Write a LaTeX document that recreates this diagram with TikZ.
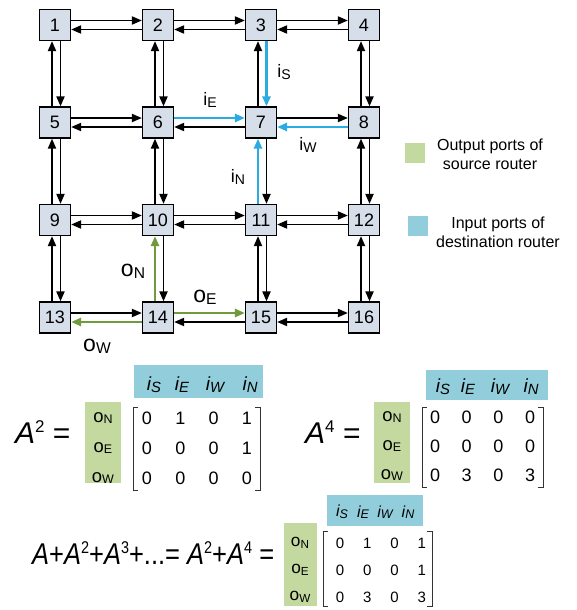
\documentclass[tikz,border=0pt]{standalone}
\usepackage{fontspec}
\setmainfont{Liberation Sans}
\usetikzlibrary{arrows.meta, calc}

\definecolor{boxfill}{HTML}{D5DEE9}
\definecolor{inblue}{HTML}{2AACE2}
\definecolor{outgreen}{HTML}{6F9B3C}
\definecolor{legblue}{HTML}{92CDDC}
\definecolor{leggreen}{HTML}{C4D9A0}

\newcommand{\ip}[1]{i\raisebox{-0.1em}{\scalebox{0.78}{#1}}}
\newcommand{\op}[1]{\scalebox{1.15}{o}\raisebox{-0.1em}{\scalebox{0.78}{#1}}}
\newcommand{\pw}[1]{\raisebox{0.38em}{\fontsize{17}{17}\selectfont #1}}

\begin{document}
\begin{tikzpicture}[x=1pt,y=-1pt,
    router/.style={draw,line width=1.2pt,fill=boxfill,%
      minimum size=31pt,inner sep=0pt,font=\fontsize{18}{18}\selectfont},
    link/.style={line width=1.9pt,-{Triangle[length=10pt,width=8pt]}},
    inlink/.style={link,inblue,line width=2.7pt},
    outlink/.style={link,outgreen,line width=2.7pt},
    portlbl/.style={font=\fontsize{18}{18}\selectfont},
    olbl/.style={font=\fontsize{20}{20}\selectfont},
    legtxt/.style={align=center,font=\fontsize{16}{19}\selectfont},
    eqn/.style={anchor=west,inner sep=0pt,font=\fontsize{30}{30}\selectfont},
    hdr/.style={font=\fontsize{19}{19}\selectfont\itshape},
    rowlbl/.style={font=\fontsize{16}{16}\selectfont},
    entry/.style={font=\fontsize{18}{18}\selectfont},
    bracket/.style={line width=0.8pt,black!80}]
\useasboundingbox (0,0) rectangle (576,610);

% 4x4 mesh of routers
\foreach \n in {1,...,16}{
  \pgfmathsetmacro\cx{55+103*mod(\n-1,4)}
  \pgfmathsetmacro\cy{25+97.5*int((\n-1)/4)}
  \node[router] (r\n) at (\cx,\cy) {\n};
}

% east-bound links
\foreach \a/\b in {1/2,2/3,3/4,5/6,7/8,9/10,10/11,11/12,13/14,15/16}
  \draw[link] ([yshift=4.5pt]r\a.east) -- ([yshift=4.5pt]r\b.west);
% west-bound links
\foreach \a/\b in {1/2,2/3,3/4,5/6,6/7,9/10,10/11,11/12,14/15,15/16}
  \draw[link] ([yshift=-4.5pt]r\b.west) -- ([yshift=-4.5pt]r\a.east);
% north-bound links
\foreach \a/\b in {1/5,2/6,3/7,4/8,5/9,6/10,8/12,9/13,11/15,12/16}
  \draw[link] ([xshift=-3pt]r\b.north) -- ([xshift=-3pt]r\a.south);
% south-bound links
\foreach \a/\b in {1/5,2/6,4/8,5/9,6/10,7/11,8/12,9/13,10/14,11/15,12/16}
  \draw[link] ([xshift=5.5pt]r\a.south) -- ([xshift=5.5pt]r\b.north);

% input ports of router 7
\draw[inlink] ([xshift=5.5pt]r3.south) -- ([xshift=5.5pt]r7.north);
\draw[inlink] ([yshift=4.5pt]r6.east) -- ([yshift=4.5pt]r7.west);
\draw[inlink] ([yshift=-4.5pt]r8.west) -- ([yshift=-4.5pt]r7.east);
\draw[inlink] ([xshift=-3pt]r11.north) -- ([xshift=-3pt]r7.south);
% output ports of router 14
\draw[outlink] ([xshift=-3pt]r14.north) -- ([xshift=-3pt]r10.south);
\draw[outlink] ([yshift=4.5pt]r14.east) -- ([yshift=4.5pt]r15.west);
\draw[outlink] ([yshift=-4.5pt]r14.west) -- ([yshift=-4.5pt]r13.east);

\node[portlbl] (lS) at (284,72) {\ip{S}};
\node[portlbl] (lE) at (210,100) {\ip{E}};
\node[portlbl] (lW) at (308,145) {\ip{W}};
\node[portlbl] (lN) at (238,177) {\ip{N}};
\node[olbl] (oN) at (133,271) {\op{N}};
\node[olbl] (oE) at (205,297) {\op{E}};
\node[olbl] (oW) at (97,346) {\op{W}};

% legend
\node[fill=leggreen,minimum size=20pt,inner sep=0pt] (kout) at (415,153) {};
\node[legtxt] (koutt) at (490,154) {Output ports of\\source router};
\node[fill=legblue,minimum size=20pt,inner sep=0pt] (kin) at (418,226) {};
\node[legtxt] (kint) at (498,232) {Input ports of\\destination router};

% A^2
\node[eqn] (eqa) at (15,432) {\textit{A}\pw{2} =};
\fill[leggreen] (85,402) rectangle (121,483);
\fill[legblue] (134,365) rectangle (263,398);
\foreach \t/\x in {S/154,E/182,W/215,N/250}
  \node[hdr] (ha-\t) at (\x,385) {\ip{\t}};
\foreach \t [count=\r] in {N,E,W}
  \node[rowlbl] (ra-\t) at (103,{418+30*(\r-1)}) {\op{\t}};
\draw[bracket] (138,407) -| (133,490) -- (138,490);
\draw[bracket] (255,407) -| (260,490) -- (255,490);
\foreach \row [count=\r] in {{0,1,0,1},{0,0,0,1},{0,0,0,0}}
  \foreach \v [count=\c] in \row
    \node[entry] (ma-\r-\c) at ({147+33.3*(\c-1)},{418+30*(\r-1)}) {\v};

% A^4
\node[eqn] (eqb) at (305,432) {\textit{A}\pw{4} =};
\fill[leggreen] (374,402) rectangle (410,483);
\fill[legblue] (426,370) rectangle (548,400);
\foreach \t/\x in {S/443,E/468,W/500,N/531}
  \node[hdr] (hb-\t) at (\x,387) {\ip{\t}};
\foreach \t [count=\r] in {N,E,W}
  \node[rowlbl] (rb-\t) at (392,{417+29*(\r-1)}) {\op{\t}};
\draw[bracket] (427,407) -| (422,487) -- (427,487);
\draw[bracket] (538,407) -| (543,487) -- (538,487);
\foreach \row [count=\r] in {{0,0,0,0},{0,0,0,0},{0,3,0,3}}
  \foreach \v [count=\c] in \row
    \node[entry] (mb-\r-\c) at ({435+31.7*(\c-1)},{417+29*(\r-1)}) {\v};

% sum
\node[eqn] (eqc) at (32,553) {\scalebox{0.85}[1]{\textit{A}+\textit{A}\pw{2}+\textit{A}\pw{3}+...=
  \textit{A}\pw{2}+\textit{A}\pw{4} =}};
\fill[leggreen] (284,523) rectangle (317,606);
\fill[legblue] (327,495) rectangle (423,526);
\foreach \t/\x in {S/342,E/363,W/385,N/408}
  \node[hdr,font=\fontsize{16}{16}\selectfont\itshape] (hc-\t) at (\x,512) {\ip{\t}};
\foreach \t [count=\r] in {N,E,W}
  \node[rowlbl,font=\fontsize{15}{15}\selectfont] (rc-\t) at (300,{543+27*(\r-1)}) {\op{\t}};
\draw[bracket] (328,531) -| (323,606) -- (328,606);
\draw[bracket] (427,531) -| (432,606) -- (427,606);
\foreach \row [count=\r] in {{0,1,0,1},{0,0,0,1},{0,3,0,3}}
  \foreach \v [count=\c] in \row
    \node[entry,font=\fontsize{15}{15}\selectfont] (mc-\r-\c) at ({340+27.3*(\c-1)},{543+27*(\r-1)}) {\v};
\end{tikzpicture}
\end{document}
